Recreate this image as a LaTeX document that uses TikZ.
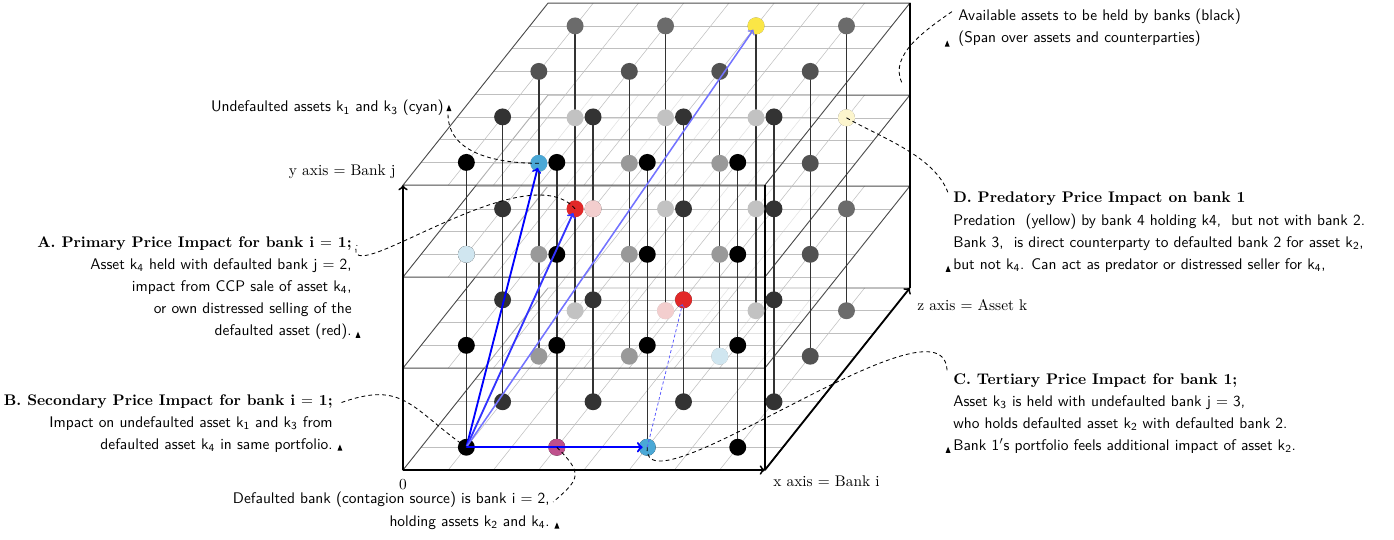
\documentclass[tikz,border=0pt]{standalone}
\usetikzlibrary{arrows}

\definecolor{cyanhi}{RGB}{74,168,214}
\definecolor{cyanlo}{RGB}{208,230,240}
\definecolor{redhi}{RGB}{226,40,40}
\definecolor{redlo}{RGB}{243,206,206}
\definecolor{magdot}{RGB}{190,80,140}
\definecolor{yelhi}{RGB}{250,230,70}
\definecolor{yello}{RGB}{252,245,205}

\newcommand{\hd}[1]{{\rmfamily\bfseries #1}}

\tikzset{
  dot/.style={circle, inner sep=0pt, minimum size=11pt},
  gridline/.style={gray!50, line width=0.35pt},
  planeedge/.style={black!70, line width=0.6pt},
  stem/.style={black!80, line width=0.9pt},
  axisline/.style={black, line width=1.2pt},
  impact/.style={->, blue, line width=1.2pt, shorten >=3pt},
  leader/.style={dash pattern=on 2.5pt off 2pt, line width=0.55pt},
  note/.style={font=\sffamily\linespread{1.2}\selectfont, inner sep=0pt},
  axlabel/.style={inner sep=0pt},
  tri/.pic={\fill (-1.6pt,0pt) -- (1.6pt,0pt) -- (0pt,4pt) -- cycle;}
}

\begin{document}
\begin{tikzpicture}[x=0.65pt, y=-0.65pt]
\useasboundingbox (0,0) rectangle (1394,539);

\begin{scope}[shift={(403,470)}, x={(58.8pt,0pt)}, y={(0pt,59.15pt)}, z={(23.56pt,29.58pt)}]
  % planes for bank j, bottom to top
  \foreach \L in {0,1.12,2.12,3.13}{
    \fill[white, fill opacity=0.55] (0,\L,0) -- (4,\L,0) -- (4,\L,4) -- (0,\L,4) -- cycle;
    \foreach \t in {0.5,1,...,3.5}{
      \draw[gridline] (0,\L,\t) -- (4,\L,\t);
      \draw[gridline] (\t,\L,0) -- (\t,\L,4);
    }
    \draw[planeedge] (0,\L,0) -- (4,\L,0) -- (4,\L,4) -- (0,\L,4) -- cycle;
  }
  % axes and box edges
  \coordinate (origin) at (0,0,0);
  \coordinate (ytip) at (0,3.13,0);
  \coordinate (xtip) at (4,0,0);
  \coordinate (ztip) at (4,0,4);
  \draw[axisline, ->] (origin) -- (ytip);
  \draw[axisline, ->] (origin) -- (xtip);
  \draw[axisline, ->] (xtip) -- (ztip);
  \draw[axisline] (xtip) -- (4,3.13,0);
  \draw[axisline] (ztip) -- (4,3.13,4);
  % stems through the four planes
  \foreach \i in {1,...,4}{
    \foreach \k in {1,...,4}{
      \draw[stem] (\i-0.5,0,\k-0.5) -- (\i-0.5,3.13,\k-0.5);
    }
  }
  % assets held (grey by depth, paler under the next plane)
  \foreach \p/\L in {0/0,1/1.12,2/2.12,3/3.13}{
    \foreach \k/\s/\f in {1/100/100,2/80/80,3/68/40,4/58/24}{
      \foreach \i in {1,...,4}{
        \def\dotshade{\s}
        \ifnum\p<3 \ifnum\k>2 \ifnum\i<4 \def\dotshade{\f}\fi\fi\fi
        \node[dot, fill=black!\dotshade] (d\p-\i-\k) at (\i-0.5,\L,\k-0.5) {};
      }
    }
  }
  % coloured assets
  \node[dot, fill=magdot] (defbank) at (1.5,0,0.5) {};
  \node[dot, fill=cyanhi] (tert) at (2.5,0,0.5) {};
  \node[dot, fill=cyanlo] (kthreelo) at (2.5,0,2.5) {};
  \node[dot, fill=redlo] (kfourlo) at (1.5,0,3.5) {};
  \node[dot, fill=redhi] (redtwo) at (2.5,1.12,1.5) {};
  \node[dot, fill=redhi] (prim) at (0.5,1.12,3.5) {};
  \node[dot, fill=cyanlo] (koneLo) at (0.5,2.12,0.5) {};
  \node[dot, fill=redlo] (ktwolo) at (1.5,2.12,1.5) {};
  \node[dot, fill=cyanhi] (undef) at (0.5,2.12,2.5) {};
  \node[dot, fill=yello] (predlt) at (3.5,2.12,3.5) {};
  \node[dot, fill=yelhi] (pred) at (2.5,3.13,3.5) {};
  \coordinate (backface) at (3.91,2.26,4);
\end{scope}

% price impact arrows from bank 1
\draw[impact] (d0-1-1.center) -- (undef.center);
\draw[impact, blue!80] (d0-1-1.center) -- (prim.center);
\draw[impact, blue!55, line width=1pt] (d0-1-1.center) -- (pred.center);
\draw[impact, line width=1.4pt] (d0-1-1.center) -- (tert.center);
\draw[impact, blue!65, line width=0.5pt, dash pattern=on 2pt off 1.5pt] (tert.center) -- (redtwo.center);

% axis labels
\node[axlabel, anchor=base east] (ylab) at (396,175) {y axis $=$ Bank j};
\node[axlabel, anchor=base west] (xlab) at (773,486) {x axis $=$ Bank i};
\node[axlabel, anchor=base west] (zlab) at (917,310) {z axis $=$ Asset k};
\node[axlabel, anchor=base] (zero) at (403,489) {0};

% notes
\node[note, anchor=north east, align=right] (Ulab) at (444,100)
  {Undefaulted assets k\textsubscript{1} and k\textsubscript{3} (cyan)};
\node[note, anchor=north east, align=right] (Alab) at (352,236)
  {\hd{A. Primary Price Impact for bank i $=$ 1;}\\
   Asset k\textsubscript{4} held with defaulted bank j $=$ 2,\\
   impact from CCP sale of asset k\textsubscript{4},\\
   or own distressed selling of the\\
   defaulted asset (red).};
\node[note, anchor=north east, align=right] (Blab) at (333,394)
  {\hd{B. Secondary Price Impact for bank i $=$ 1;}\\
   Impact on undefaulted asset k\textsubscript{1} and k\textsubscript{3} from\\
   defaulted asset k\textsubscript{4} in same portfolio.};
\node[note, anchor=north east, align=right] (Dflab) at (550,492)
  {Defaulted bank (contagion source) is bank i $=$ 2,\\
   holding assets k\textsubscript{2} and k\textsubscript{4}.};
\node[note, anchor=north west, align=left] (Avlab) at (958,8.5)
  {Available assets to be held by banks (black)\\
   (Span over assets and counterparties)};
\node[note, anchor=north west, align=left] (Dlab) at (953,192)
  {\hd{D. Predatory Price Impact on bank 1}\\
   Predation~~(yellow) by bank 4 holding k4,~~but not with bank 2.\\
   Bank 3,~~is direct counterparty to defaulted bank 2 for asset k\textsubscript{2},\\
   but not k\textsubscript{4}. Can act as predator or distressed seller for k\textsubscript{4},};
\node[note, anchor=north west, align=left] (Clab) at (953,373)
  {\hd{C. Tertiary Price Impact for bank 1;}\\
   Asset k\textsubscript{3} is held with undefaulted bank j $=$ 3,\\
   who holds defaulted asset k\textsubscript{2} with defaulted bank 2.\\
   Bank 1$'$s portfolio feels additional impact of asset k\textsubscript{2}.};

% leaders from the assets to the notes
\draw[leader] (undef.center) to[out=180, in=-90] ([shift={(2.6pt,1.3pt)}]Ulab.south east);
\draw[leader] (prim.center) to[out=131, in=-109, out looseness=0.88, in looseness=0.61] ([shift={(3.2pt,-5.9pt)}]Alab.north east);
\draw[leader] (d0-1-1.center) to[out=145, in=20, looseness=1.3] ([shift={(4.5pt,-5.9pt)}]Blab.north east);
\draw[leader] (defbank.center) to[out=-45, in=40, looseness=1.7] ([shift={(2pt,-6.5pt)}]Dflab.north east);
\draw[leader] (tert.center) to[out=-96, in=88, out looseness=0.6, in looseness=0.76] ([shift={(-3.9pt,0pt)}]Clab.north west);
\draw[leader] (predlt.center) to[out=-30, in=110, looseness=0.8] ([shift={(-3.2pt,-0.6pt)}]Dlab.north west);
\draw[leader] (backface) to[out=115, in=215, looseness=0.9] ([shift={(-3.9pt,-2pt)}]Avlab.north west);

% marks
\pic at ([shift={(3.2pt,3.2pt)}]Ulab.south east) {tri};
\pic at ([shift={(3.9pt,1.3pt)}]Alab.south east) {tri};
\pic at ([shift={(4.5pt,1.3pt)}]Blab.south east) {tri};
\pic at ([shift={(4.5pt,0.6pt)}]Dflab.south east) {tri};
\pic at ([shift={(-7pt,0pt)}]Avlab.south west) {tri};
\pic at ([shift={(-3.2pt,0.6pt)}]Dlab.south west) {tri};
\pic at ([shift={(-3.2pt,0.6pt)}]Clab.south west) {tri};
\end{tikzpicture}
\end{document}
